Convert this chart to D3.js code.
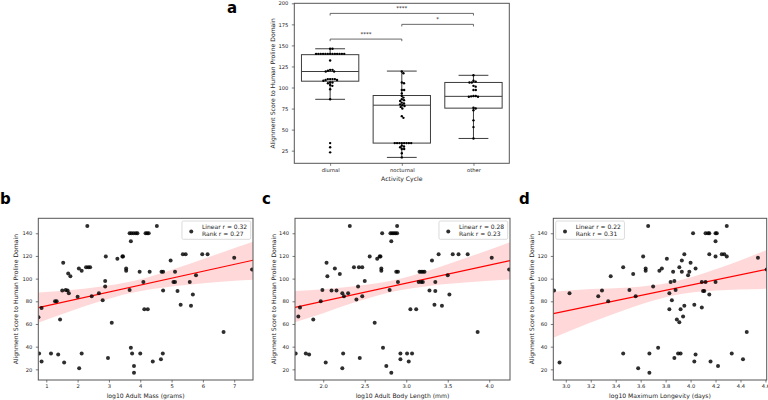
<!DOCTYPE html>
<html><head><meta charset="utf-8">
<script src="https://cdn.jsdelivr.net/npm/d3@7"></script>
<style>
body{margin:0;background:#fff;}
svg text{font-family:"DejaVu Sans",sans-serif;fill:#222;}
</style></head><body>
<svg id="chart" width="768" height="400"></svg>
<script>
// ---------------- DATA ----------------
const activityCategories = ["diurnal", "nocturnal", "other"];
const diurnalScores = [146,146,140,140,140,140,140,140,140,140,140,140,140,140,140,132,121,121,120,119,119,110,110,110,110,109,109,108,106,106,105,103,102,98,86,34,29,23];
const nocturnalScores = [119,117,106,105,97,97,93,90,88,86,85,84,82,81,80,79,78,77,75,66,64,34,34,34,34,34,34,34,34,31,30,29,27,27,22,17];
const otherScores = [114.5,108,107,106,106,102,101,97,97,90,90,89.5,89,89,76,75,73,61,53,39.5];
const boxQ1 = [107.5, 34, 75.5];
const boxMedian = [119, 79, 89.5];
const boxQ3 = [139, 90.5, 106];
const whiskerLow = [86, 17, 39.5];
const whiskerHigh = [146, 119.5, 114.5];
const sigPairs = [[0, 2], [1, 2], [0, 1]];
const sigLevels = [188, 175, 157.5];
const sigLabels = ["****", "*", "****"];
const boxYTicks = [25, 50, 75, 100, 125, 150, 175, 200];

const massPoints = [[0.75,66],[0.77,34],[0.85,27],[0.85,74],[1.15,34],[1.28,80],[1.33,80],[1.38,33],[1.44,64],[1.54,114],[1.51,89.5],[1.62,90],[1.68,89.5],[1.72,87],[1.57,26],[1.70,104.5],[1.77,102],[2.0,84],[2.04,109],[2.13,107],[2.05,21],[2.13,34],[2.31,146.5],[2.27,110],[2.34,110],[2.40,110],[2.45,84.5],[2.68,87],[2.80,81],[2.88,93],[2.88,98],[2.90,119.5],[2.97,30],[3.09,61],[3.27,117.5],[3.43,119.5],[3.45,119.5],[3.55,109],[3.55,107],[3.66,90],[3.66,140],[3.72,140],[3.79,140],[3.86,140],[3.91,140],[3.70,133],[3.70,39],[3.74,34],[3.80,23],[3.80,17],[3.98,106],[4.0,34],[4.10,97],[4.13,73],[4.24,73],[4.17,140],[4.22,140],[4.27,140],[4.30,106],[4.40,27],[4.53,146.5],[4.66,29],[4.68,106],[4.73,106],[4.72,34],[4.73,89.5],[4.97,116],[5.06,97],[5.11,97],[5.11,106],[5.19,89],[5.29,77],[5.36,121.5],[5.45,121.5],[5.58,97],[5.62,76],[5.68,86],[5.78,103],[5.98,121.5],[6.15,121.5],[6.66,53],[7.0,118.5],[7.57,108]];
const lengthPoints = [[1.668,34],[1.70,66.5],[1.72,74.5],[1.79,34],[1.83,33],[1.88,64],[1.97,80],[1.99,90],[2.03,26],[2.04,114],[2.05,102],[2.10,89.5],[2.14,109],[2.16,89.5],[2.20,104],[2.23,87],[2.23,21],[2.24,34],[2.25,84.5],[2.30,87],[2.32,146.5],[2.37,110],[2.40,81.5],[2.42,93],[2.43,110],[2.44,30],[2.47,110],[2.47,84.5],[2.50,98],[2.56,119.5],[2.62,61],[2.65,117.5],[2.68,119.5],[2.69,119.5],[2.70,109],[2.70,107],[2.71,140],[2.72,39],[2.76,23],[2.80,90],[2.81,140],[2.83,140],[2.85,140],[2.87,140],[2.89,140],[2.82,133],[2.82,17],[2.89,146.5],[2.88,106],[2.90,106],[2.90,97],[2.93,34],[2.93,29],[3.01,34],[3.03,27],[3.05,73],[3.07,34],[3.12,73],[3.15,97],[3.16,106],[3.18,106],[3.20,106],[3.22,106],[3.18,97],[3.20,97],[3.28,89.5],[3.31,116],[3.34,77],[3.35,97],[3.35,89],[3.39,121.5],[3.43,76],[3.50,103],[3.52,86],[3.56,121.5],[3.63,121.5],[3.74,121.5],[3.86,53],[4.03,118.5],[4.24,108]];
const longevityPoints = [[2.906,89.5],[2.95,26],[3.03,87],[3.26,84.5],[3.29,89.5],[3.34,80],[3.36,102],[3.46,110],[3.46,34],[3.51,90],[3.54,104],[3.56,84.5],[3.58,21],[3.62,119.5],[3.66,146.5],[3.67,34],[3.67,17],[3.64,109],[3.64,107],[3.70,93],[3.74,39],[3.75,107],[3.77,109],[3.81,117.5],[3.83,87],[3.83,73],[3.84,97],[3.85,81],[3.86,106],[3.87,98],[3.87,30],[3.88,90],[3.89,64],[3.90,34],[3.92,34],[3.91,61.5],[3.91,110],[3.92,73],[3.93,106],[3.93,116],[3.94,66.5],[3.95,121.5],[3.95,76],[3.98,103],[3.99,106],[4.00,114],[4.02,140],[4.03,77],[4.04,109],[4.03,27],[4.04,33],[4.09,74.5],[4.09,97],[4.10,89],[4.11,89],[4.12,97],[4.12,140],[4.14,140],[4.15,140],[4.15,121.5],[4.15,86],[4.16,27],[4.20,140],[4.21,140],[4.20,133],[4.20,119.5],[4.20,97],[4.22,23],[4.25,121.5],[4.27,121.5],[4.29,119.5],[4.29,146.5],[4.33,34],[4.42,29],[4.45,53],[4.54,118.5],[4.61,108]];

// regression fit (values at the left and right plot edges) and 95% CI band
const massFitY = [74.4, 116.2];
const massBandX = [0.745, 1.7, 2.7, 3.7, 4.7, 5.7, 6.7, 7.6];
const massBandLow = [61.0, 70.6, 79.8, 87.4, 92.0, 95.0, 97.4, 99.0];
const massBandHigh = [87.8, 89.8, 92.8, 97.4, 105.0, 114.2, 124.0, 132.5];
const lengthFitY = [74.7, 115.9];
const lengthBandX = [1.66, 2.0, 2.4, 2.85, 3.3, 3.75, 4.25];
const lengthBandLow = [61.5, 69.5, 79.5, 88.6, 93.8, 96.8, 99.3];
const lengthBandHigh = [89.0, 90.7, 93.5, 98.6, 107.8, 119.0, 132.0];
const longevityFitY = [69.1, 108.2];
const longevityBandX = [2.9, 3.2, 3.5, 3.85, 4.2, 4.61];
const longevityBandLow = [47.8, 61.2, 73.4, 84.9, 89.5, 91.0];
const longevityBandHigh = [88.5, 90.8, 92.2, 96.9, 108.3, 125.2];

const scatterYTicks = [20, 40, 60, 80, 100, 120, 140];
const massTicks = [1, 2, 3, 4, 5, 6, 7];
const lengthTicks = [2.0, 2.5, 3.0, 3.5, 4.0];
const longevityTicks = [3.0, 3.2, 3.4, 3.6, 3.8, 4.0, 4.2, 4.4, 4.6];
const massLegend = ["Linear r = 0.32", "Rank r = 0.27"];
const lengthLegend = ["Linear r = 0.28", "Rank r = 0.23"];
const longevityLegend = ["Linear r = 0.22", "Rank r = 0.31"];
const yLabelText = "Alignment Score to Human Proline Domain";

// ---------------- DRAWING ----------------
const svg = d3.select("#chart");
const TICK_FS = 5.2, LABEL_FS = 6.1, LEG_FS = 6;
const frameColor = "#555";

function styleAxis(g) {
  g.select(".domain").remove();
  g.selectAll(".tick line").attr("stroke", "#444").attr("stroke-width", 0.7);
  g.selectAll(".tick text").attr("font-size", TICK_FS).attr("fill", "#222");
}

// ---- Panel a: box + swarm ----
(function () {
  const L = 294.3, R = 509.3, T = 3.3, B = 163.3;
  const x = d3.scalePoint().domain(activityCategories).range([L, R]).padding(0.5);
  const y = d3.scaleLinear().domain([10, 200]).range([B, T]);
  const g = svg.append("g");
  const bw = x.step() * 0.8;
  const groups = [diurnalScores, nocturnalScores, otherScores];
  const boxStroke = "#3d3d3d";

  activityCategories.forEach((c, i) => {
    const cx = x(c);
    g.append("line").attr("x1", cx).attr("x2", cx).attr("y1", y(boxQ3[i])).attr("y2", y(whiskerHigh[i]))
      .attr("stroke", boxStroke).attr("stroke-width", 1);
    g.append("line").attr("x1", cx).attr("x2", cx).attr("y1", y(boxQ1[i])).attr("y2", y(whiskerLow[i]))
      .attr("stroke", boxStroke).attr("stroke-width", 1);
    [whiskerHigh[i], whiskerLow[i]].forEach(v => {
      g.append("line").attr("x1", cx - bw * 0.26).attr("x2", cx + bw * 0.26).attr("y1", y(v)).attr("y2", y(v))
        .attr("stroke", boxStroke).attr("stroke-width", 1);
    });
    g.append("rect").attr("x", cx - bw / 2).attr("width", bw)
      .attr("y", y(boxQ3[i])).attr("height", y(boxQ1[i]) - y(boxQ3[i]))
      .attr("fill", "#fff").attr("stroke", boxStroke).attr("stroke-width", 1);
    g.append("line").attr("x1", cx - bw / 2).attr("x2", cx + bw / 2).attr("y1", y(boxMedian[i])).attr("y2", y(boxMedian[i]))
      .attr("stroke", boxStroke).attr("stroke-width", 1);

    // swarm layout
    const d = 2.35, placed = [];
    groups[i].forEach(v => {
      const py = y(v);
      const near = placed.filter(p => Math.abs(p.y - py) < d);
      const cands = [0];
      near.forEach(p => { const dx = Math.sqrt(d * d - (p.y - py) ** 2); cands.push(p.o + dx, p.o - dx); });
      cands.sort((a, b) => Math.abs(a) - Math.abs(b));
      const o = cands.find(c2 => near.every(p => (c2 - p.o) ** 2 + (p.y - py) ** 2 >= d * d - 1e-6));
      placed.push({ y: py, o: o });
    });
    g.selectAll(null).data(placed).enter().append("circle")
      .attr("cx", p => cx + p.o).attr("cy", p => p.y).attr("r", 1.2).attr("fill", "#000");
  });

  sigPairs.forEach((pr, k) => {
    const x1 = x(activityCategories[pr[0]]), x2 = x(activityCategories[pr[1]]);
    const yl = y(sigLevels[k]), arm = y(sigLevels[k] - 2.5);
    g.append("path").attr("d", `M${x1},${arm}V${yl}H${x2}V${arm}`)
      .attr("fill", "none").attr("stroke", "#444").attr("stroke-width", 0.8);
    g.append("text").attr("x", (x1 + x2) / 2).attr("y", yl - 3.3).attr("text-anchor", "middle")
      .attr("font-size", 5.5).text(sigLabels[k]);
  });

  g.append("rect").attr("x", L).attr("y", T).attr("width", R - L).attr("height", B - T)
    .attr("fill", "none").attr("stroke", frameColor).attr("stroke-width", 1);

  const ya = g.append("g").attr("transform", `translate(${L},0)`)
    .call(d3.axisLeft(y).tickValues(boxYTicks).tickSize(2.5).tickPadding(3.5));
  styleAxis(ya);
  const xa = g.append("g").attr("transform", `translate(0,${B})`)
    .call(d3.axisBottom(x).tickSize(2.5).tickPadding(2.2));
  styleAxis(xa);

  g.append("text").attr("transform", `translate(273.3,${(T + B) / 2}) rotate(-90)`).attr("dy", "0.35em")
    .attr("text-anchor", "middle").attr("font-size", LABEL_FS).text(yLabelText);
  g.append("text").attr("x", (L + R) / 2).attr("y", 180.5).attr("text-anchor", "middle")
    .attr("font-size", LABEL_FS).text("Activity Cycle");
  svg.append("text").attr("x", 227).attr("y", 13).attr("font-size", 15).attr("font-weight", "bold")
    .style("fill", "#000").text("a");
})();

// ---- Panels b, c, d: scatter + regression ----
const scatterPanels = [
  { letter: "b", letterX: 0, pts: massPoints, ticks: massTicks, fmt: d3.format("d"), xDomain: [0.745, 7.6],
    fit: massFitY, bx: massBandX, blo: massBandLow, bhi: massBandHigh,
    L: 38.3, R: 253, ylabX: 15.7, xLabel: "log10 Adult Mass (grams)", legend: massLegend, legendRight: true },
  { letter: "c", letterX: 262, pts: lengthPoints, ticks: lengthTicks, fmt: d3.format(".1f"), xDomain: [1.66, 4.25],
    fit: lengthFitY, bx: lengthBandX, blo: lengthBandLow, bhi: lengthBandHigh,
    L: 295, R: 510, ylabX: 274, xLabel: "log10 Adult Body Length (mm)", legend: lengthLegend, legendRight: true },
  { letter: "d", letterX: 519, pts: longevityPoints, ticks: longevityTicks, fmt: d3.format(".1f"), xDomain: [2.9, 4.61],
    fit: longevityFitY, bx: longevityBandX, blo: longevityBandLow, bhi: longevityBandHigh,
    L: 553.3, R: 766.7, ylabX: 531.7, xLabel: "log10 Maximum Longevity (days)", legend: longevityLegend, legendRight: false }
];

scatterPanels.forEach(P => {
  const T = 218.3, B = 380;
  const x = d3.scaleLinear().domain(P.xDomain).range([P.L, P.R]);
  const y = d3.scaleLinear().domain([10.6, 153.2]).range([B, T]);
  const g = svg.append("g");
  const clipId = "clip" + P.letter;
  g.append("clipPath").attr("id", clipId).append("rect")
    .attr("x", P.L).attr("y", T).attr("width", P.R - P.L).attr("height", B - T);

  const cg = g.append("g").attr("clip-path", `url(#${clipId})`);
  const band = P.bx.map((bx, i) => [bx, P.blo[i], P.bhi[i]]);
  cg.append("path").datum(band)
    .attr("d", d3.area().curve(d3.curveMonotoneX).x(d => x(d[0])).y0(d => y(d[1])).y1(d => y(d[2])))
    .attr("fill", "#ff0000").attr("fill-opacity", 0.15);
  cg.append("line").attr("x1", x(P.xDomain[0])).attr("x2", x(P.xDomain[1]))
    .attr("y1", y(P.fit[0])).attr("y2", y(P.fit[1]))
    .attr("stroke", "#ff0000").attr("stroke-width", 1.2);
  cg.selectAll(null).data(P.pts).enter().append("circle")
    .attr("cx", d => x(d[0])).attr("cy", d => y(d[1])).attr("r", 2)
    .attr("fill", "#000").attr("fill-opacity", 0.82);

  g.append("rect").attr("x", P.L).attr("y", T).attr("width", P.R - P.L).attr("height", B - T)
    .attr("fill", "none").attr("stroke", frameColor).attr("stroke-width", 1);

  const ya = g.append("g").attr("transform", `translate(${P.L},0)`)
    .call(d3.axisLeft(y).tickValues(scatterYTicks).tickSize(2.5).tickPadding(3.5));
  styleAxis(ya);
  const xa = g.append("g").attr("transform", `translate(0,${B})`)
    .call(d3.axisBottom(x).tickValues(P.ticks).tickFormat(P.fmt).tickSize(2.5).tickPadding(1.8));
  styleAxis(xa);

  g.append("text").attr("transform", `translate(${P.ylabX},${(T + B) / 2}) rotate(-90)`).attr("dy", "0.35em")
    .attr("text-anchor", "middle").attr("font-size", LABEL_FS).text(yLabelText);
  g.append("text").attr("x", (P.L + P.R) / 2).attr("y", 397.8).attr("text-anchor", "middle")
    .attr("font-size", LABEL_FS).text(P.xLabel);

  const lg = g.append("g");
  const box = lg.append("rect").attr("fill", "#fff").attr("fill-opacity", 0.8)
    .attr("stroke", "#ccc").attr("stroke-width", 0.7).attr("rx", 1.5);
  const t1 = lg.append("text").attr("font-size", LEG_FS).text(P.legend[0]);
  const t2 = lg.append("text").attr("font-size", LEG_FS).text(P.legend[1]);
  const tw = Math.max(t1.node().getComputedTextLength(), t2.node().getComputedTextLength());
  const bwid = 20 + tw + 3.5, bh = 18.3, bt = T + 2.7;
  const bl = P.legendRight ? P.R - 2.3 - bwid : P.L + 2.4;
  box.attr("x", bl).attr("y", bt).attr("width", bwid).attr("height", bh);
  t1.attr("x", bl + 20).attr("y", bt + 7.9);
  t2.attr("x", bl + 20).attr("y", bt + 14.7);
  lg.append("circle").attr("cx", bl + 9.3).attr("cy", bt + 10.5).attr("r", 2).attr("fill", "#000").attr("fill-opacity", 0.82);

  svg.append("text").attr("x", P.letterX).attr("y", 204).attr("font-size", 15).attr("font-weight", "bold")
    .style("fill", "#000").text(P.letter);
});
</script>
</body></html>
